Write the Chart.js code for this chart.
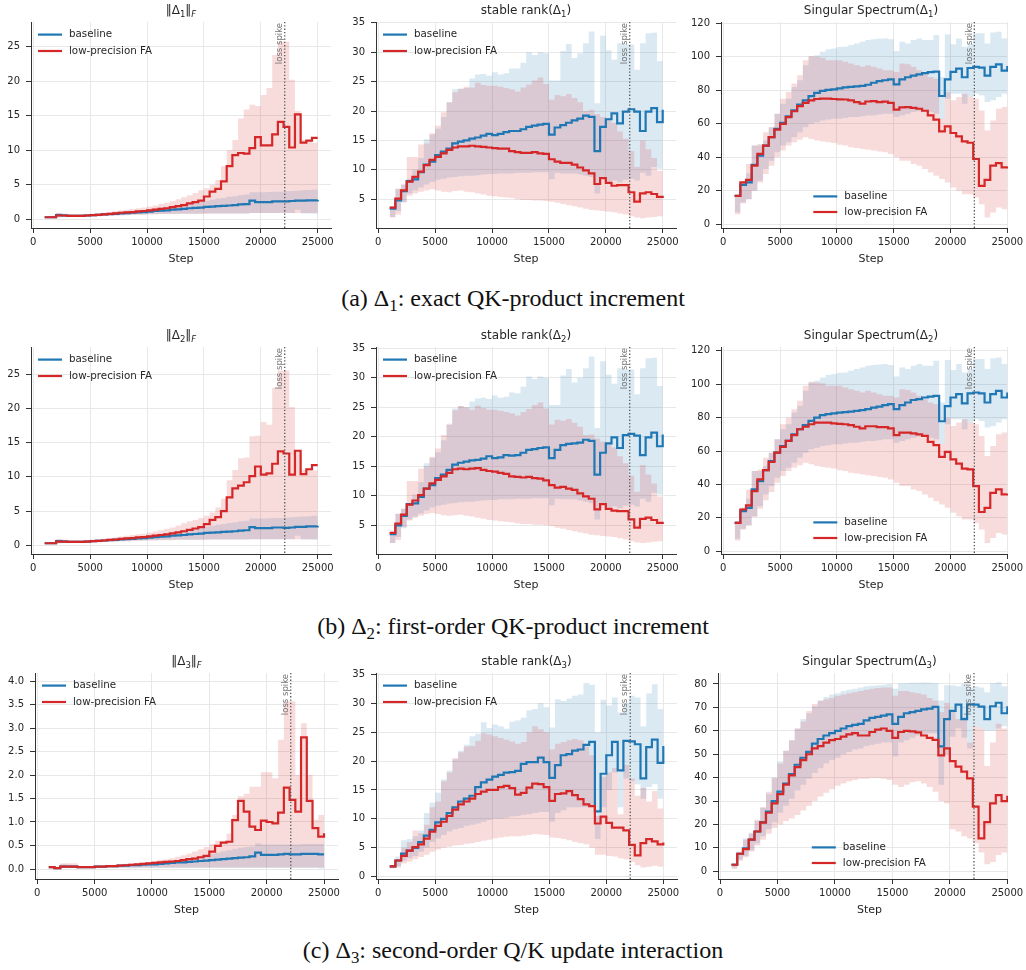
<!DOCTYPE html>
<html>
<head>
<meta charset="utf-8">
<script src="https://cdn.jsdelivr.net/npm/chart.js@4.4.1/dist/chart.umd.min.js"></script>
<style>
  html, body { margin: 0; padding: 0; background: #fff; width: 1026px; height: 970px; overflow: hidden; }
  canvas { position: absolute; }
  .cap { position: absolute; left: 0; width: 1026px; text-align: center; font-family: "Liberation Serif", "DejaVu Serif", serif; font-size: 24px; line-height: 26px; color: #111; }
  .cap .s { font-size: 0.7em; position: relative; top: 0.3em; }
  .mask { position: absolute; left: 1008px; width: 18px; background: #fff; z-index: 5; }
</style>
</head>
<body>
<div class="cap" style="top:285px">(a) Δ<span class="s">1</span>: exact QK-product increment</div>
<div class="cap" style="top:613px">(b) Δ<span class="s">2</span>: first-order QK-product increment</div>
<div class="cap" style="top:937px">(c) Δ<span class="s">3</span>: second-order Q/K update interaction</div>
<div class="mask" style="top:0px;height:230px"></div>
<div class="mask" style="top:320px;height:236px"></div>
<div class="mask" style="top:645px;height:236px"></div>
<script>
// training steps (x)
const steps = [1000,1500,2000,2500,3000,3500,4000,4500,5000,5500,6000,6500,7000,7500,8000,8500,9000,9500,10000,10500,11000,11500,12000,12500,13000,13500,14000,14500,15000,15500,16000,16500,17000,17500,18000,18500,19000,19500,20000,20500,21000,21500,22000,22500,23000,23500,24000,24500,25000];

// ---- Δ1 : Frobenius norm
const n1Base   = [0.3,0.3,0.6,0.55,0.5,0.5,0.5, 0.55,0.6,0.65,0.7,0.75,0.8,0.85, 0.9,0.95,1.0,1.05,1.1,1.2,1.25, 1.3,1.4,1.45,1.5,1.6,1.65,1.7, 1.8,1.85,1.9,1.95,2.0,2.05,2.15, 2.2,2.7,2.5,2.5,2.5,2.6,2.6, 2.6,2.65,2.7,2.7,2.75,2.75,2.8];
const n1BaseHi = [0.35,0.4,0.9,0.8,0.7,0.7,0.7, 0.75,0.8,0.85,0.9,0.95,1.0,1.1, 1.15,1.2,1.3,1.35,1.45,1.55,1.7, 1.8,1.9,2.0,2.15,2.3,2.45,2.55, 2.7,2.85,3.0,3.1,3.25,3.35,3.5, 3.6,3.9,3.9,3.9,3.95,4.0,4.0, 4.05,4.1,4.15,4.2,4.25,4.3,4.3];
const n1BaseLo = [0.25,0.25,0.3,0.35,0.35,0.35,0.4, 0.4,0.45,0.45,0.5,0.55,0.55,0.6, 0.65,0.65,0.7,0.7,0.75,0.75,0.8, 0.8,0.8,0.8,0.8,0.8,0.8,0.8, 0.85,0.85,0.85,0.85,0.85,0.85,0.85, 0.85,0.9,0.9,0.9,0.9,0.9,0.9, 0.9,0.9,1.4,0.85,0.85,0.8,0.8];
const n1Fa     = [0.3,0.3,0.55,0.55,0.5,0.5,0.5, 0.55,0.6,0.65,0.7,0.8,0.85,0.95, 1.0,1.05,1.15,1.2,1.3,1.4,1.5, 1.6,1.75,1.9,2.05,2.3,2.5,2.7, 3.3,4.0,4.4,5.5,7.7,9.3,9.6, 9.5,10.3,11.9,10.7,10.7,12.3,14.1, 13.4,10.4,15.2,11.1,11.4,11.8,11.8];
const n1FaHi   = [0.35,0.4,0.9,0.8,0.7,0.7,0.7, 0.75,0.8,0.85,0.95,1.05,1.15,1.3, 1.4,1.5,1.6,1.7,1.85,2.0,2.2, 2.4,2.6,2.9,3.2,3.5,3.8,4.2, 4.5,5.0,5.7,7.7,10.0,11.5,14.6, 15.9,16.6,16.4,18.0,19.0,23.8,25.7, 25.7,20.2,15.7,11.5,11.3,11.1,11.0];
const n1FaLo   = [0.25,0.25,0.3,0.35,0.35,0.35,0.4, 0.4,0.45,0.45,0.5,0.55,0.55,0.6, 0.6,0.65,0.65,0.7,0.7,0.7,0.75, 0.75,0.75,0.8,0.8,0.8,0.8,0.8, 0.8,0.85,0.85,0.85,0.85,0.85,0.85, 0.85,0.9,0.9,0.9,0.9,0.9,0.9, 0.9,0.9,0.9,0.9,0.9,0.9,0.9];

// ---- Δ1 : stable rank
const sr1Base   = [3.4,4.8,6.4,8.1,8.4,9.6,10.9, 11.4,12.5,13.1,13.6,14.5,14.8,15.0, 15.3,15.5,15.8,16.1,15.9,16.1,16.4, 16.6,16.6,16.9,17.3,17.5,17.7,17.8, 16.0,17.2,17.6,18.0,18.4,18.7,19.2, 19.0,13.2,17.3,18.6,19.6,17.9,19.9, 20.3,19.9,16.6,19.9,20.5,18.1,20.2];
const sr1BaseHi = [3.8,6.8,7.5,8.5,10.0,12.0,15.2, 16.0,17.0,19.0,21.5,23.7,23.8,23.9, 25.5,26.2,26.3,26.0,26.6,26.2,26.4, 27.2,27.2,28.2,30.0,29.5,30.0,29.8, 25.2,25.2,30.2,31.4,29.0,29.8,31.5, 33.5,21.3,32.8,30.3,28.7,31.5,31.3, 31.3,27.0,31.5,33.2,33.3,28.5,28.5];
const sr1BaseLo = [2.0,3.0,4.5,6.0,6.5,7.0,7.5, 8.0,8.3,8.5,8.7,8.8,8.9,9.0, 9.0,9.1,9.2,9.3,9.3,9.4,9.4, 9.4,9.5,9.5,9.5,9.6,9.6,9.6, 8.4,9.5,9.4,9.4,9.4,9.2,9.0, 8.8,6.0,8.5,8.0,8.2,7.9,8.3, 8.5,8.2,9.5,9.0,10.5,10.2,10.2];
const sr1Fa     = [3.6,5.1,6.5,8.0,8.8,9.7,10.8, 11.7,12.2,12.8,13.4,13.8,14.0,14.0, 14.1,14.0,13.9,13.8,13.7,13.6,13.6, 13.2,13.0,12.9,12.9,13.0,12.8,12.7, 11.8,11.4,11.2,11.2,10.9,10.4,9.9, 9.4,7.6,8.6,7.8,7.3,7.4,7.4, 6.2,4.6,6.0,6.2,5.9,5.4,5.2];
const sr1FaHi   = [3.8,6.8,7.5,12.2,12.2,14.3,14.5, 16.2,17.5,19.8,21.5,23.2,23.8,24.1, 24.0,24.8,24.4,24.3,24.3,24.1,23.9, 23.7,23.3,24.0,24.5,25.2,25.7,24.6, 21.9,22.7,22.5,22.9,22.2,21.5,20.0, 20.2,19.5,19.0,18.8,18.0,16.5,15.3, 13.2,10.5,15.0,13.5,12.0,9.8,9.5];
const sr1FaLo   = [1.9,2.4,4.5,5.6,6.0,6.3,6.5, 6.7,6.5,6.3,6.2,6.4,6.5,6.3, 6.2,6.0,5.8,5.6,5.5,5.4,5.3, 5.2,5.0,4.9,4.9,4.8,4.8,4.7, 4.6,4.4,4.2,4.0,3.8,3.6,3.4, 3.2,3.1,3.0,2.9,2.8,2.6,2.4, 2.1,1.9,1.8,1.9,2.0,2.1,2.2];

// ---- Δ1 : singular spectrum
const ss1Base   = [17,23.5,25,35.5,41,47,52, 57,60.5,64.5,68,71.5,74,76.5, 78.5,79.7,80.2,80.6,81.1,81.7,82.1, 82.4,82.6,83.3,84.5,85.5,86.0,86.5, 83.5,86.5,87.8,88.8,89.5,90.2,90.8, 91.2,76.6,86.5,91.0,93.0,87.8,93.3, 94.0,93.5,88.8,94.0,95.5,91.8,94.5];
const ss1BaseHi = [17.5,25,30.5,47,47,50,58, 66,72,75,82,86,95,100, 101,103,104.5,105,105.8,106,107, 108,109,110,110.5,110.8,111,110.5, 103.5,109,108,110,111,110,110, 113,88,113.5,107.5,111,106,108, 114,114,108,114.5,115,111,110];
const ss1BaseLo = [7,13,15,20,26,33,38, 43,47,49,52,55,58,60, 61,62,62.5,63,63,63.5,64, 64,64.5,65,65,65.5,66,66, 64,65,66,67,67.5,68,67, 66,63,75,78,78,72,76, 78,77,73,74,76,78,74];
const ss1Fa     = [17,25,26.5,35,42,47,52, 56.5,60,64,67.5,70.5,72.5,74, 74.8,75,75,74.8,74.6,74.5,74, 73,72,73.3,73.5,73,73.2,72.5, 68.5,69.8,70,69.5,69,67.8,65, 62.5,55.5,58.5,54.5,52.5,49.5,48.7, 39,23,26.5,35,36.5,34,34.5];
const ss1FaHi   = [17.5,25,36,47,48,55,58, 66,75,79,84,89,98,100.5, 100,99.5,98,98,98,97,96, 95,94,95,94,93,92,92, 91,96,95.5,94,92,90,88, 87,63,79,74,76,78,76, 75,68,56,62,69,70,71];
const ss1FaLo   = [6,12.5,15,20,25,30,35, 40,44,47,49,50.5,52,51, 50,49.5,49,48.5,47.5,47,46, 45.5,45,44.5,44,43.5,43,42, 40,38,38,36,35,33,31, 29,27,25,22,20,18,18, 16,12,4,7,10,9,8.5];

// ---- Δ2 : Frobenius norm
const n2Base   = [0.3,0.3,0.6,0.55,0.5,0.5,0.5, 0.55,0.6,0.65,0.7,0.75,0.8,0.85, 0.9,0.95,1.0,1.05,1.1,1.2,1.25, 1.3,1.4,1.45,1.5,1.6,1.65,1.7, 1.8,1.85,1.9,1.95,2.0,2.05,2.15, 2.2,2.65,2.5,2.5,2.5,2.6,2.6, 2.55,2.6,2.7,2.7,2.75,2.75,2.8];
const n2BaseHi = [0.35,0.4,0.9,0.8,0.7,0.7,0.7, 0.75,0.8,0.85,0.9,0.95,1.0,1.1, 1.15,1.2,1.3,1.35,1.45,1.55,1.7, 1.8,1.9,2.0,2.15,2.3,2.45,2.55, 2.7,2.85,3.0,3.1,3.25,3.35,3.5, 3.6,3.9,3.9,3.9,3.95,4.0,4.0, 4.05,4.1,4.15,4.2,4.25,4.3,4.3];
const n2BaseLo = [0.25,0.25,0.3,0.35,0.35,0.35,0.4, 0.4,0.45,0.45,0.5,0.55,0.55,0.6, 0.65,0.65,0.7,0.7,0.75,0.75,0.8, 0.8,0.8,0.8,0.8,0.8,0.8,0.8, 0.85,0.85,0.85,0.85,0.85,0.85,0.85, 0.85,0.9,0.9,0.9,0.9,0.9,0.9, 0.9,0.9,1.4,0.85,0.85,0.8,0.8];
const n2Fa     = [0.3,0.3,0.55,0.55,0.5,0.5,0.5, 0.55,0.6,0.65,0.7,0.8,0.85,0.95, 1.0,1.05,1.15,1.2,1.3,1.4,1.5, 1.6,1.75,1.9,2.05,2.25,2.45,2.65, 3.1,3.7,4.1,5.0,7.0,8.3,8.7, 9.2,10.1,11.5,10.3,10.5,11.9,13.7, 13.4,10.3,13.8,10.4,11.1,11.7,11.7];
const n2FaHi   = [0.35,0.4,0.9,0.8,0.7,0.7,0.7, 0.75,0.8,0.85,0.95,1.05,1.15,1.3, 1.4,1.5,1.6,1.7,1.85,2.0,2.2, 2.4,2.6,2.9,3.2,3.5,3.7,4.0, 4.3,4.8,5.5,6.8,9.5,11.0,12.7, 12.8,15.9,16.0,18.0,17.6,23.0,25.5, 25.5,20.2,13.9,11.0,11.0,10.9,10.8];
const n2FaLo   = [0.25,0.25,0.3,0.35,0.35,0.35,0.4, 0.4,0.45,0.45,0.5,0.55,0.55,0.6, 0.6,0.65,0.65,0.7,0.7,0.7,0.75, 0.75,0.75,0.8,0.8,0.8,0.8,0.8, 0.8,0.85,0.85,0.85,0.85,0.85,0.85, 0.85,0.9,0.9,0.9,0.9,0.9,0.9, 0.9,0.9,0.9,0.9,0.9,0.9,0.9];

// ---- Δ2 : stable rank
const sr2Base   = [3.5,5.0,6.6,8.6,8.7,9.8,11.2, 11.8,13.0,13.6,14.4,15.3,15.6,15.8, 16.0,16.1,16.3,16.7,16.4,16.5,16.9, 16.8,16.9,17.3,17.8,17.9,18.1,18.2, 16.4,17.8,18.6,18.8,18.9,19.0,19.5, 19.3,13.6,17.3,18.9,19.9,18.1,20.3, 20.5,20.2,16.9,19.9,20.7,18.4,20.4];
const sr2BaseHi = [3.9,6.9,7.8,8.8,10.2,12.3,15.5, 16.4,17.4,19.4,22.0,24.8,25.2,25.0, 26.0,26.5,26.6,26.4,27.0,26.6,26.8, 27.5,27.4,28.5,30.2,29.8,30.2,30.0, 25.4,25.4,30.4,31.5,29.2,30.0,31.6, 33.6,21.5,32.8,30.5,29.0,31.6,31.4, 31.4,27.2,31.6,33.3,33.4,28.6,28.6];
const sr2BaseLo = [2.0,3.0,4.5,6.0,6.5,7.0,7.5, 8.0,8.3,8.5,8.7,8.8,8.9,9.0, 9.0,9.1,9.2,9.3,9.3,9.4,9.4, 9.4,9.5,9.5,9.5,9.6,9.6,9.6, 8.4,9.5,9.4,9.4,9.4,9.2,9.0, 8.8,6.0,8.5,8.0,8.2,7.9,8.3, 8.5,8.2,9.5,9.0,10.5,10.2,10.2];
const sr2Fa     = [3.7,5.3,6.8,8.5,9.2,10.1,11.2, 12.1,12.7,13.3,13.9,14.5,14.6,14.5, 14.6,14.7,14.4,14.2,14.1,13.9,13.7, 13.3,13.2,13.1,13.2,13.0,12.9,12.6, 11.8,11.4,11.5,11.2,11.0,10.4,9.9, 9.5,7.7,8.6,7.8,7.5,7.4,7.4, 6.0,4.6,6.1,6.3,5.9,5.4,5.2];
const sr2FaHi   = [3.9,7.0,7.8,12.5,12.5,14.6,15.0, 16.6,18.0,20.3,22.2,24.5,25.2,25.0, 24.6,25.3,24.9,24.6,24.6,24.4,24.2, 24.0,23.6,24.2,24.7,25.4,25.8,24.8, 22.1,22.9,22.7,23.0,22.4,21.7,20.3, 20.4,19.7,19.2,19.0,18.2,16.7,15.5, 13.4,10.7,15.2,13.6,12.1,9.9,9.6];
const sr2FaLo   = [2.0,2.5,4.7,5.8,6.3,6.6,6.9, 7.1,6.9,6.7,6.6,6.7,6.8,6.6, 6.5,6.3,6.1,5.9,5.8,5.7,5.6, 5.5,5.3,5.2,5.2,5.1,5.1,5.0, 4.9,4.6,4.4,4.2,4.0,3.8,3.6, 3.4,3.3,3.2,3.1,3.0,2.8,2.6, 2.3,2.1,2.0,2.1,2.2,2.3,2.4];

// ---- Δ2 : singular spectrum
const ss2Base   = [17,24,26,37,42,48.5,54, 59,63,66,70,73,75.5,78, 80,81.5,82,82.5,83,83.3,83.5, 84,84.5,85,86,86.5,87.5,88, 85,87.5,89,90.5,91,92,92.5, 93,77.8,86.8,92,94,88.5,94.5, 95,94.5,89,94,96,92,95];
const ss2BaseHi = [18,26,31.5,48,48,51,59, 67,73,76,83,87,96,101, 102,104,105.5,106,106.8,107,108, 109,110,111,111.5,111.8,112,111.5, 104.5,110,109,111,112,111,111, 114,89,114.5,108.5,112,107,109, 115,115,109,115.5,116,112,111];
const ss2BaseLo = [7.5,13.5,15.5,21,27,34,39, 44,48,50,53,56,59,61, 62,63,63.5,64,64,64.5,65, 65,65.5,66,66,66.5,67,67, 65,66,67,68,68.5,69,68, 67,64,76,79,79,73,77, 79,78,74,75,77,79,75];
const ss2Fa     = [17,25,27.5,36,43,48.5,53.5, 59,62.5,66,69.5,73,74.5,76, 77,77,77,76.5,76.2,76,75.5, 74.5,73.5,74.8,74.8,74.3,74.3,73.5, 69.5,71,71,70.5,70,69,65.5, 63.5,56.5,59.5,55,52.5,49.5,49, 39,23.5,26,35,37,34,34.5];
const ss2FaHi   = [18,26,37,48,49,56,59, 67,76,80,85,90,99,101.5, 101,100.5,99,99,99,98,97, 96,95,96,95,94,93,93, 92,97,96.5,95,93,91,89, 88,64,80,75,77,79,77, 76,69,57,63,70,71,72];
const ss2FaLo   = [6.5,13,15.5,20.5,25.5,30.5,35.5, 41,45,48,50,51.5,53,52, 51,50.5,50,49.5,48.5,48,47, 46.5,46,45.5,45,44.5,44,43, 41,39,39,37,36,34,32, 30,28,26,23,21,19,19, 17,13,5,8,11,10,9];

// ---- Δ3 : Frobenius norm
const n3Base   = [0.04,0.02,0.05,0.05,0.05,0.04,0.04, 0.04,0.05,0.05,0.06,0.06,0.07,0.07, 0.08,0.08,0.09,0.1,0.1,0.11,0.12, 0.13,0.14,0.14,0.15,0.16,0.17,0.18, 0.19,0.2,0.21,0.22,0.23,0.24,0.25, 0.27,0.35,0.3,0.3,0.3,0.31,0.32, 0.31,0.31,0.32,0.32,0.32,0.31,0.31];
const n3BaseHi = [0.05,0.04,0.1,0.09,0.08,0.06,0.06, 0.06,0.07,0.07,0.08,0.08,0.09,0.1, 0.11,0.11,0.12,0.13,0.14,0.15,0.16, 0.18,0.19,0.21,0.23,0.25,0.27,0.3, 0.32,0.35,0.38,0.4,0.43,0.45,0.47, 0.48,0.55,0.52,0.52,0.52,0.52,0.52, 0.52,0.52,0.53,0.53,0.53,0.53,0.53];
const n3BaseLo = [0.02,0.01,0.02,0.02,0.02,0.02,0.02, 0.02,0.02,0.02,0.02,0.02,0.02,0.02, 0.02,0.02,0.02,0.02,0.02,0.02,0.02, 0.02,0.02,0.02,0.02,0.02,0.02,0.02, 0.02,0.02,0.02,0.02,0.02,0.02,0.02, 0.02,0.02,0.02,0.02,0.02,0.02,0.02, 0.02,0.02,0.02,0.02,0.02,0.01,0.01];
const n3Fa     = [0.04,0.02,0.05,0.05,0.05,0.04,0.04, 0.04,0.05,0.05,0.06,0.06,0.07,0.08, 0.09,0.10,0.11,0.12,0.13,0.14,0.15, 0.16,0.17,0.19,0.21,0.22,0.25,0.28, 0.37,0.49,0.56,0.58,1.04,1.45,1.22, 0.9,0.83,1.03,1.0,0.97,1.2,1.73, 1.47,1.22,2.8,1.45,0.87,0.69,0.76];
const n3FaHi   = [0.05,0.04,0.12,0.12,0.12,0.06,0.06, 0.06,0.07,0.07,0.08,0.09,0.1,0.11, 0.12,0.13,0.14,0.15,0.17,0.19,0.21, 0.23,0.26,0.29,0.33,0.37,0.42,0.47, 0.53,0.6,0.6,0.75,1.15,1.55,1.6, 1.75,1.75,2.06,2.06,1.93,2.75,3.57, 3.57,2.0,3.1,2.0,1.05,1.15,1.15];
const n3FaLo   = [0.02,0.01,0.02,0.02,0.02,0.02,0.02, 0.02,0.02,0.02,0.03,0.03,0.03,0.03, 0.03,0.03,0.03,0.03,0.03,0.03,0.03, 0.03,0.03,0.03,0.03,0.03,0.03,0.03, 0.03,0.03,0.03,0.03,0.03,0.03,0.03, 0.03,0.03,0.03,0.03,0.03,0.03,0.03, 0.03,0.03,0.03,0.03,0.03,0.03,0.03];

// ---- Δ3 : stable rank
const sr3Base   = [1.8,2.8,4.0,4.5,5.0,6.0,7.1, 8.1,9.4,10.0,11.0,12.0,13.0,13.5, 14.0,15.5,16.3,16.8,17.3,17.6,18.0, 18.1,18.3,19.5,19.8,19.8,20.6,19.8, 17.1,19.3,21.0,21.2,21.8,22.0,22.8, 23.3,11.3,17.8,21.0,23.3,18.4,23.5, 23.4,22.9,17.0,22.4,23.7,19.7,22.6];
const sr3BaseHi = [2.0,3.5,6.3,6.5,7.0,8.0,11.0, 12.8,14.5,16.8,18.3,20.3,21.8,22.8, 24.3,24.7,26.7,25.7,26.3,26.0,25.6, 26.8,27.0,27.5,28.8,29.0,30.0,29.3, 25.8,30.7,30.4,30.8,31.3,31.5,33.5, 33.2,25.0,30.6,29.6,31.0,28.4,30.0, 31.3,31.0,26.0,31.7,33.3,29.0,29.0];
const sr3BaseLo = [1.5,1.8,2.8,3.2,3.6,4.3,5.0, 6.0,6.6,7.2,7.8,8.2,8.4,8.8, 9.0,9.2,9.5,9.8,10.0,10.0,10.2, 10.4,10.5,10.7,10.8,11.0,11.2,11.2, 9.5,11.0,11.5,12.0,12.0,12.0,12.0, 12.0,6.5,12.0,15.0,18.0,12.0,17.0, 16.5,16.0,13.5,15.5,16.0,13.5,13.5];
const sr3Fa     = [1.8,2.8,3.6,4.5,5.1,5.6,6.6, 7.8,8.8,9.5,10.5,11.6,12.5,13.0, 13.5,14.3,14.7,15.0,15.0,15.5,15.7, 15.3,14.2,14.5,15.4,16.1,16.0,15.5, 13.1,14.3,14.4,14.8,14.1,13.4,12.5, 12.2,9.2,10.4,9.3,8.5,8.5,8.0, 5.5,3.7,5.8,6.5,6.1,5.6,5.9];
const sr3FaHi   = [2.0,3.0,5.0,6.0,8.0,7.5,9.0, 12.0,13.0,16.5,18.0,20.5,21.5,22.5, 22.6,23.5,24.8,24.6,24.3,24.0,23.7, 23.4,23.0,23.3,25.0,26.0,25.5,25.0, 22.0,23.0,23.3,23.6,23.8,23.6,22.5, 21.0,10.5,17.3,18.0,18.8,10.8,19.3, 17.0,14.0,15.4,13.0,14.8,11.8,11.8];
const sr3FaLo   = [1.4,1.6,2.3,2.6,3.0,3.4,3.8, 4.3,4.7,5.0,5.2,5.4,5.5,5.7, 5.8,6.0,6.2,6.4,6.6,6.8,6.9, 7.0,7.0,7.1,7.2,7.4,7.3,7.2, 6.8,6.7,6.5,6.3,6.0,5.8,5.6, 5.0,3.8,3.8,3.6,3.5,3.2,3.0, 2.6,2.0,1.6,1.7,1.9,1.7,1.6];

// ---- Δ3 : singular spectrum
const ss3Base   = [2.8,7.5,9.8,13.5,17,21,25.5, 30,34,37.5,41.5,45.5,48.5,51, 54.5,56.5,58,59,60,61,62, 62.5,63,64.5,65.5,66,66.5,67, 63,66,67.5,68,68.5,69.2,69.5, 70.2,53.4,65,68.5,71.2,65,71.3, 71.2,70.3,65,70.5,72,67.5,70.5];
const ss3BaseHi = [3.5,8.5,14,16.5,21.5,27,33, 40,47,51.5,56,61,65,67.5, 70.5,73,74.5,75.5,76,77,77.5, 78,78.5,79,79.3,79.5,79.7,80, 78,80.2,80.3,80.5,80.5,80.6,80.5, 80.3,73,79.5,79.5,79,80,78.5, 79,78.5,76.5,80.3,80.8,79,79];
const ss3BaseLo = [1.5,5,6.5,9,12,15,18, 21,25,28,31,34.5,37,39.5, 42,44,46,47.5,48.5,50,51, 52,52.5,53.5,54,54.5,55,55, 49,55,56,57,58,58.5,59, 59,37,50,57.5,61,57,52.5, 62,61,60,60,61,62,59];
const ss3Fa     = [2.8,7.5,9.5,13.5,17,20.8,25, 29,33,37,41,44.5,47.5,50, 52.5,53.5,55,56,56.5,57.5,58.5, 59,58,58,59.5,60.5,61,60, 57,59.5,60,59.8,59.3,58,57, 56.1,49.5,52.5,47.1,44.7,42.6,39.7, 27.6,14.1,21,29,32.5,30,32.3];
const ss3FaHi   = [3.3,8,13.5,16,22,27.5,34, 40,46,51.5,56,61,64,68.5, 71.5,72.8,73.5,74,75,75.5,76, 76.5,77,77.5,78,78.3,78.5,78.5, 75,77,77,76.5,76,75.5,74, 73,68,72,69,65,66,55, 62,61,45,55,63,61,59];
const ss3FaLo   = [1,4.5,6,8.5,11,13.5,16, 18.5,20,21.5,22.5,24,26,28, 30,32,33.5,35,36.5,37.5,38.5, 39,39.5,39.5,39.8,39.8,39.5,39, 37,36,37,38,38.5,37.5,36, 34,30,29,18,17,15,14, 12,8,3,4,7,8,3.5];

const xTicks = [0, 5000, 10000, 15000, 20000, 25000];
const normTicks = [0, 5, 10, 15, 20, 25];
const rankTicks12 = [5, 10, 15, 20, 25, 30, 35];
const rankTicks3 = [0, 5, 10, 15, 20, 25, 30, 35];
const specTicks12 = [0, 20, 40, 60, 80, 100, 120];
const specTicks3 = [0, 10, 20, 30, 40, 50, 60, 70, 80];
const norm3Ticks = [0, 0.5, 1.0, 1.5, 2.0, 2.5, 3.0, 3.5, 4.0];
const spikeStep = 22100;

const BLUE = '#1f77b4', RED = '#d62728';
const BLUE_BAND = 'rgba(31,119,180,0.16)', RED_BAND = 'rgba(214,39,40,0.16)';
const INK = '#262626', GRID = '#e8e8e8';
const FONT = "'DejaVu Sans', sans-serif";

// box = plot area in page px [left, top, right, bottom]; xCal/yCal = tick pixel calibration
const panels = [
  { title: [['‖Δ',0],['1',1],['‖',0],['F',2]], s: [n1Base,n1BaseHi,n1BaseLo,n1Fa,n1FaHi,n1FaLo],
    box: [31,22,331,228], xCal: [33.3,317.7], yCal: [0,219.3,25,46.7], yTicks: normTicks, leg: 'ul', dp: 0 },
  { title: [['stable rank(Δ',0],['1',1],[')',0]], s: [sr1Base,sr1BaseHi,sr1BaseLo,sr1Fa,sr1FaHi,sr1FaLo],
    box: [376,22,676,228], xCal: [378.3,662.7], yCal: [5,199.3,35,22.7], yTicks: rankTicks12, leg: 'ul', dp: 0 },
  { title: [['Singular Spectrum(Δ',0],['1',1],[')',0]], s: [ss1Base,ss1BaseHi,ss1BaseLo,ss1Fa,ss1FaHi,ss1FaLo],
    box: [721,22,1021,228], xCal: [723.3,1007.3], yCal: [0,224.3,120,23.3], yTicks: specTicks12, leg: 'lc', dp: 0 },
  { title: [['‖Δ',0],['2',1],['‖',0],['F',2]], s: [n2Base,n2BaseHi,n2BaseLo,n2Fa,n2FaHi,n2FaLo],
    box: [31,347,331,554], xCal: [33.3,317.7], yCal: [0,545.3,25,374], yTicks: normTicks, leg: 'ul', dp: 0 },
  { title: [['stable rank(Δ',0],['2',1],[')',0]], s: [sr2Base,sr2BaseHi,sr2BaseLo,sr2Fa,sr2FaHi,sr2FaLo],
    box: [376,347,676,554], xCal: [378.3,662.7], yCal: [5,525.3,35,348.3], yTicks: rankTicks12, leg: 'ul', dp: 0 },
  { title: [['Singular Spectrum(Δ',0],['2',1],[')',0]], s: [ss2Base,ss2BaseHi,ss2BaseLo,ss2Fa,ss2FaHi,ss2FaLo],
    box: [721,347,1021,554], xCal: [723.3,1007.3], yCal: [0,551.3,120,350.7], yTicks: specTicks12, leg: 'lc', dp: 0 },
  { title: [['‖Δ',0],['3',1],['‖',0],['F',2]], s: [n3Base,n3BaseHi,n3BaseLo,n3Fa,n3FaHi,n3FaLo],
    box: [35,673,338,879], xCal: [37.3,324], yCal: [0,869,4,681], yTicks: norm3Ticks, leg: 'ul', dp: 1 },
  { title: [['stable rank(Δ',0],['3',1],[')',0]], s: [sr3Base,sr3BaseHi,sr3BaseLo,sr3Fa,sr3FaHi,sr3FaLo],
    box: [376,673,677,879], xCal: [378.3,663.3], yCal: [0,876.7,35,674.3], yTicks: rankTicks3, leg: 'ul', dp: 0 },
  { title: [['Singular Spectrum(Δ',0],['3',1],[')',0]], s: [ss3Base,ss3BaseHi,ss3BaseLo,ss3Fa,ss3FaHi,ss3FaLo],
    box: [718,673,1021,879], xCal: [720,1007.3], yCal: [0,871.3,80,684], yTicks: specTicks3, leg: 'lc', dp: 0 }
];

const PAD_L = 46, PAD_T = 30, PAD_R = 14, PAD_B = 42;

function drawTitle(ctx, segs, cx, y) {
  const fontOf = k => (k === 2 ? 'italic ' : '') + (k ? 8.5 : 12) + 'px ' + FONT;
  let w = 0;
  segs.forEach(([t, k]) => { ctx.font = fontOf(k); w += ctx.measureText(t).width; });
  let x = cx - w / 2;
  ctx.textAlign = 'left';
  ctx.textBaseline = 'alphabetic';
  ctx.fillStyle = INK;
  segs.forEach(([t, k]) => {
    ctx.font = fontOf(k);
    ctx.fillText(t, x, k ? y + 2.5 : y);
    x += ctx.measureText(t).width;
  });
}

const deco = {
  id: 'deco',
  afterDraw(chart, args, o) {
    const ctx = chart.ctx, a = chart.chartArea, xs = chart.scales.x;
    ctx.save();
    // loss spike marker
    const sx = xs.getPixelForValue(spikeStep);
    ctx.strokeStyle = '#555';
    ctx.lineWidth = 1.3;
    ctx.setLineDash([1.3, 2]);
    ctx.beginPath();
    ctx.moveTo(sx, a.top);
    ctx.lineTo(sx, a.bottom);
    ctx.stroke();
    ctx.setLineDash([]);
    ctx.save();
    ctx.translate(sx - 5, a.top + 1);
    ctx.rotate(-Math.PI / 2);
    ctx.font = '8.5px ' + FONT;
    ctx.fillStyle = 'rgba(90,90,90,0.85)';
    ctx.textAlign = 'right';
    ctx.textBaseline = 'middle';
    ctx.fillText('loss spike', 0, 0);
    ctx.restore();

    // title and x label
    const cx = (a.left + a.right) / 2;
    drawTitle(ctx, o.title, cx, a.top - 8);
    ctx.font = '11px ' + FONT;
    ctx.fillStyle = INK;
    ctx.textAlign = 'center';
    ctx.textBaseline = 'middle';
    ctx.fillText('Step', cx, a.bottom + 31);

    // legend
    let lx, ys;
    if (o.leg === 'ul') { lx = a.left + 7; ys = [a.top + 12.6, a.top + 29]; }
    else { lx = cx - 57.7; ys = [a.bottom - 31.6, a.bottom - 16]; }
    [['baseline', BLUE], ['low-precision FA', RED]].forEach(([label, col], i) => {
      ctx.strokeStyle = col;
      ctx.lineWidth = 2.2;
      ctx.beginPath();
      ctx.moveTo(lx, ys[i]);
      ctx.lineTo(lx + 24, ys[i]);
      ctx.stroke();
      ctx.font = '10.3px ' + FONT;
      ctx.fillStyle = INK;
      ctx.textAlign = 'left';
      ctx.textBaseline = 'middle';
      ctx.fillText(label, lx + 31, ys[i]);
    });
    ctx.restore();
  }
};

function pts(arr) { return steps.map((x, i) => ({ x: x, y: arr[i] })); }

function lineSet(arr, col, order) {
  return { data: pts(arr), borderColor: col, borderWidth: 2.2, pointRadius: 0, stepped: true, fill: false, order: order };
}
function bandSet(arr, col, order, fill) {
  return { data: pts(arr), borderColor: 'rgba(0,0,0,0)', borderWidth: 0, pointRadius: 0, stepped: true,
           fill: fill, backgroundColor: col, order: order };
}

panels.forEach(p => {
  const [l, t, r, b] = p.box;
  const kx = (p.xCal[1] - p.xCal[0]) / 25000;
  const xMin = (l - p.xCal[0]) / kx, xMax = (r - p.xCal[0]) / kx;
  const [v0, p0, v1, p1] = p.yCal;
  const ky = (p0 - p1) / (v1 - v0);
  const yMin = v0 - (b - p0) / ky, yMax = v0 + (p0 - t) / ky;

  const cv = document.createElement('canvas');
  const W = (r - l) + PAD_L + PAD_R, H = (b - t) + PAD_T + PAD_B;
  cv.width = W; cv.height = H;
  cv.style.left = (l - PAD_L) + 'px';
  cv.style.top = (t - PAD_T) + 'px';
  cv.style.width = W + 'px';
  cv.style.height = H + 'px';
  document.body.appendChild(cv);

  const [base, baseHi, baseLo, fa, faHi, faLo] = p.s;
  const axisCommon = {
    grid: { color: GRID, lineWidth: 1, tickColor: '#333', tickLength: 5, tickWidth: 1 },
    border: { display: true, color: '#333', width: 1 }
  };

  new Chart(cv, {
    type: 'line',
    data: {
      datasets: [
        lineSet(fa, RED, 0),
        lineSet(base, BLUE, 1),
        bandSet(faHi, RED_BAND, 2, '+1'),
        bandSet(faLo, RED_BAND, 3, false),
        bandSet(baseHi, BLUE_BAND, 4, '+1'),
        bandSet(baseLo, BLUE_BAND, 5, false)
      ]
    },
    options: {
      responsive: false,
      animation: false,
      devicePixelRatio: 1,
      layout: { padding: { left: 0, top: PAD_T, right: PAD_R, bottom: 0 } },
      plugins: { legend: { display: false }, tooltip: { enabled: false }, deco: { title: p.title, leg: p.leg } },
      scales: {
        x: Object.assign({
          type: 'linear', min: xMin, max: xMax,
          afterFit: s => { s.height = PAD_B; },
          afterBuildTicks: s => { s.ticks = xTicks.map(v => ({ value: v })); },
          ticks: { callback: v => String(v), font: { family: FONT, size: 10 }, color: INK, padding: 3, maxRotation: 0, autoSkip: false }
        }, axisCommon),
        y: Object.assign({
          type: 'linear', min: yMin, max: yMax,
          afterFit: s => { s.width = PAD_L; },
          afterBuildTicks: s => { s.ticks = p.yTicks.map(v => ({ value: v })); },
          ticks: { callback: v => v.toFixed(p.dp), font: { family: FONT, size: 10 }, color: INK, padding: 6, autoSkip: false }
        }, axisCommon)
      }
    },
    plugins: [deco]
  });
});
</script>
</body>
</html>
